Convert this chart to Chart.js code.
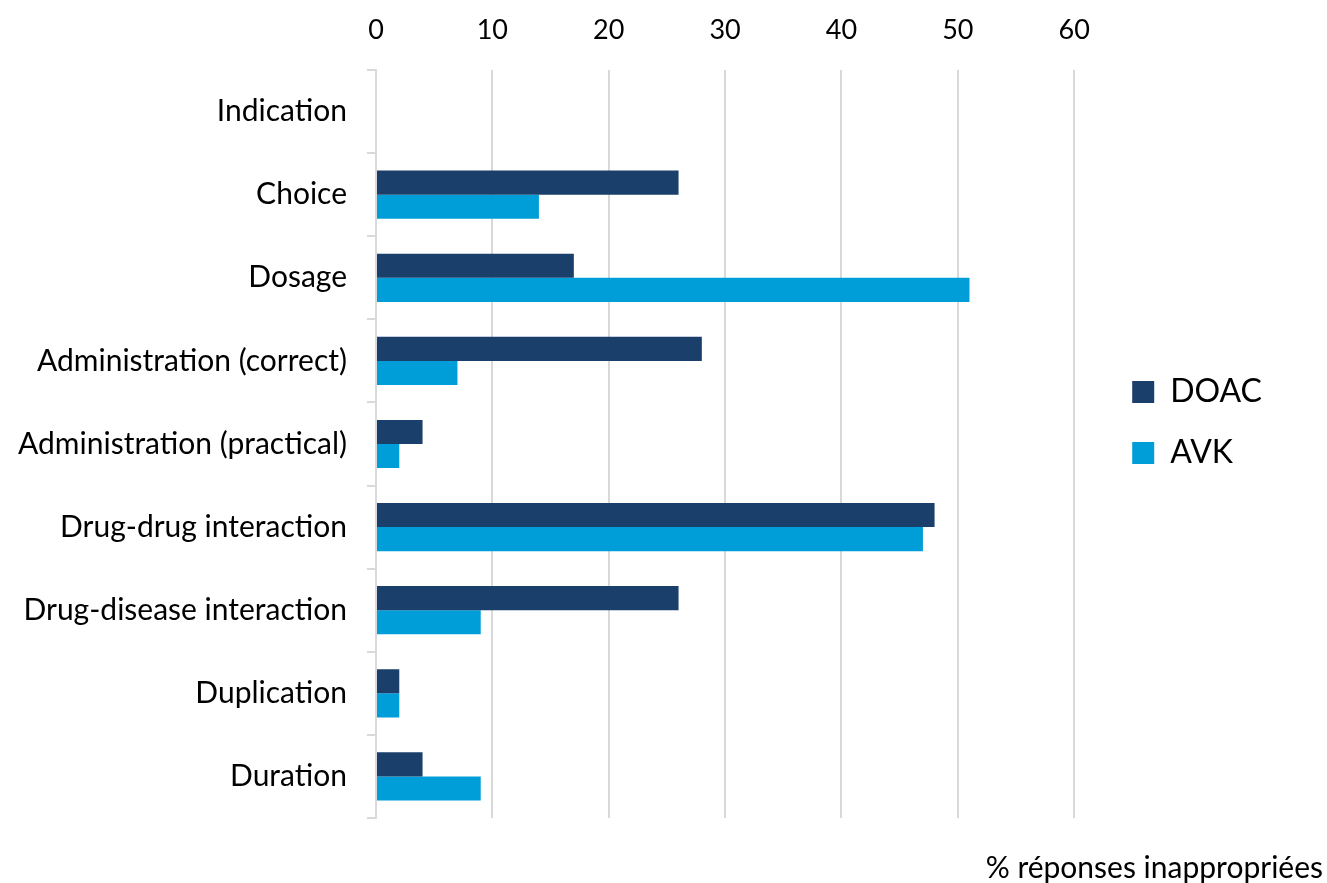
<!DOCTYPE html>
<html>
<head>
<meta charset="utf-8">
<script src="https://cdn.jsdelivr.net/npm/chart.js@4/dist/chart.umd.min.js"></script>
<style>
html,body{margin:0;padding:0;background:#fff;}
#wrap{width:1327px;height:883px;}
</style>
</head>
<body>
<div id="wrap"><canvas id="c" width="1327" height="883"></canvas></div>
<script>
const categories = ["Indication","Choice","Dosage","Administration (correct)","Administration (practical)","Drug-drug interaction","Drug-disease interaction","Duplication","Duration"];
const doacValues = [0,26,17,28,4,48,26,2,4];
const avkValues = [0,14,51,7,2,47,9,2,9];
const seriesNames = ["DOAC","AVK"];
const axisTitle = "% réponses inappropriées";
const FONT = "Lato";

const boxShift = {
  id: 'boxShift',
  afterLayout(chart) {
    const l = chart.legend;
    l.left += 29; l.right += 29; l.top -= 26; l.bottom -= 26;
    const t = chart.titleBlock;
    if (t) { t.left += 80; t.right += 80; t.top += 3; t.bottom += 3; }
  }
};

new Chart(document.getElementById('c'), {
  type: 'bar',
  data: {
    labels: categories,
    datasets: [
      {label: seriesNames[0], data: doacValues, backgroundColor: '#1A3F6B', categoryPercentage: 0.58, barPercentage: 1},
      {label: seriesNames[1], data: avkValues, backgroundColor: '#009ED8', categoryPercentage: 0.58, barPercentage: 1}
    ]
  },
  plugins: [boxShift],
  options: {
    indexAxis: 'y',
    responsive: false,
    animation: false,
    layout: {padding: {top: 14, left: 0, right: 84, bottom: 0}},
    plugins: {
      legend: {
        position: 'right',
        labels: {font: {family: FONT, size: 32}, color: '#000', boxWidth: 22, boxHeight: 22, padding: 29}
      },
      title: {
        display: true, text: axisTitle, position: 'bottom', align: 'end',
        font: {family: FONT, size: 30, weight: 'normal'}, color: '#000', padding: {top: 29, bottom: 0}
      },
      tooltip: {enabled: false}
    },
    scales: {
      x: {
        position: 'top', min: 0, max: 60,
        afterFit(scale) { scale.height = 56; },
        ticks: {stepSize: 10, font: {family: FONT, size: 27}, color: '#000', padding: 24},
        grid: {color: '#D9D9D9', lineWidth: 2, drawTicks: false},
        border: {display: false}
      },
      y: {
        afterFit(scale) { scale.width = 376; scale.paddingTop = 0; scale.paddingBottom = 0; },
        ticks: {font: {family: FONT, size: 30}, color: '#000', padding: 20},
        grid: {drawOnChartArea: false, drawTicks: true, tickLength: 9, color: '#D9D9D9', lineWidth: 2},
        border: {display: true, color: '#D9D9D9', width: 2}
      }
    }
  }
});
</script>
</body>
</html>
